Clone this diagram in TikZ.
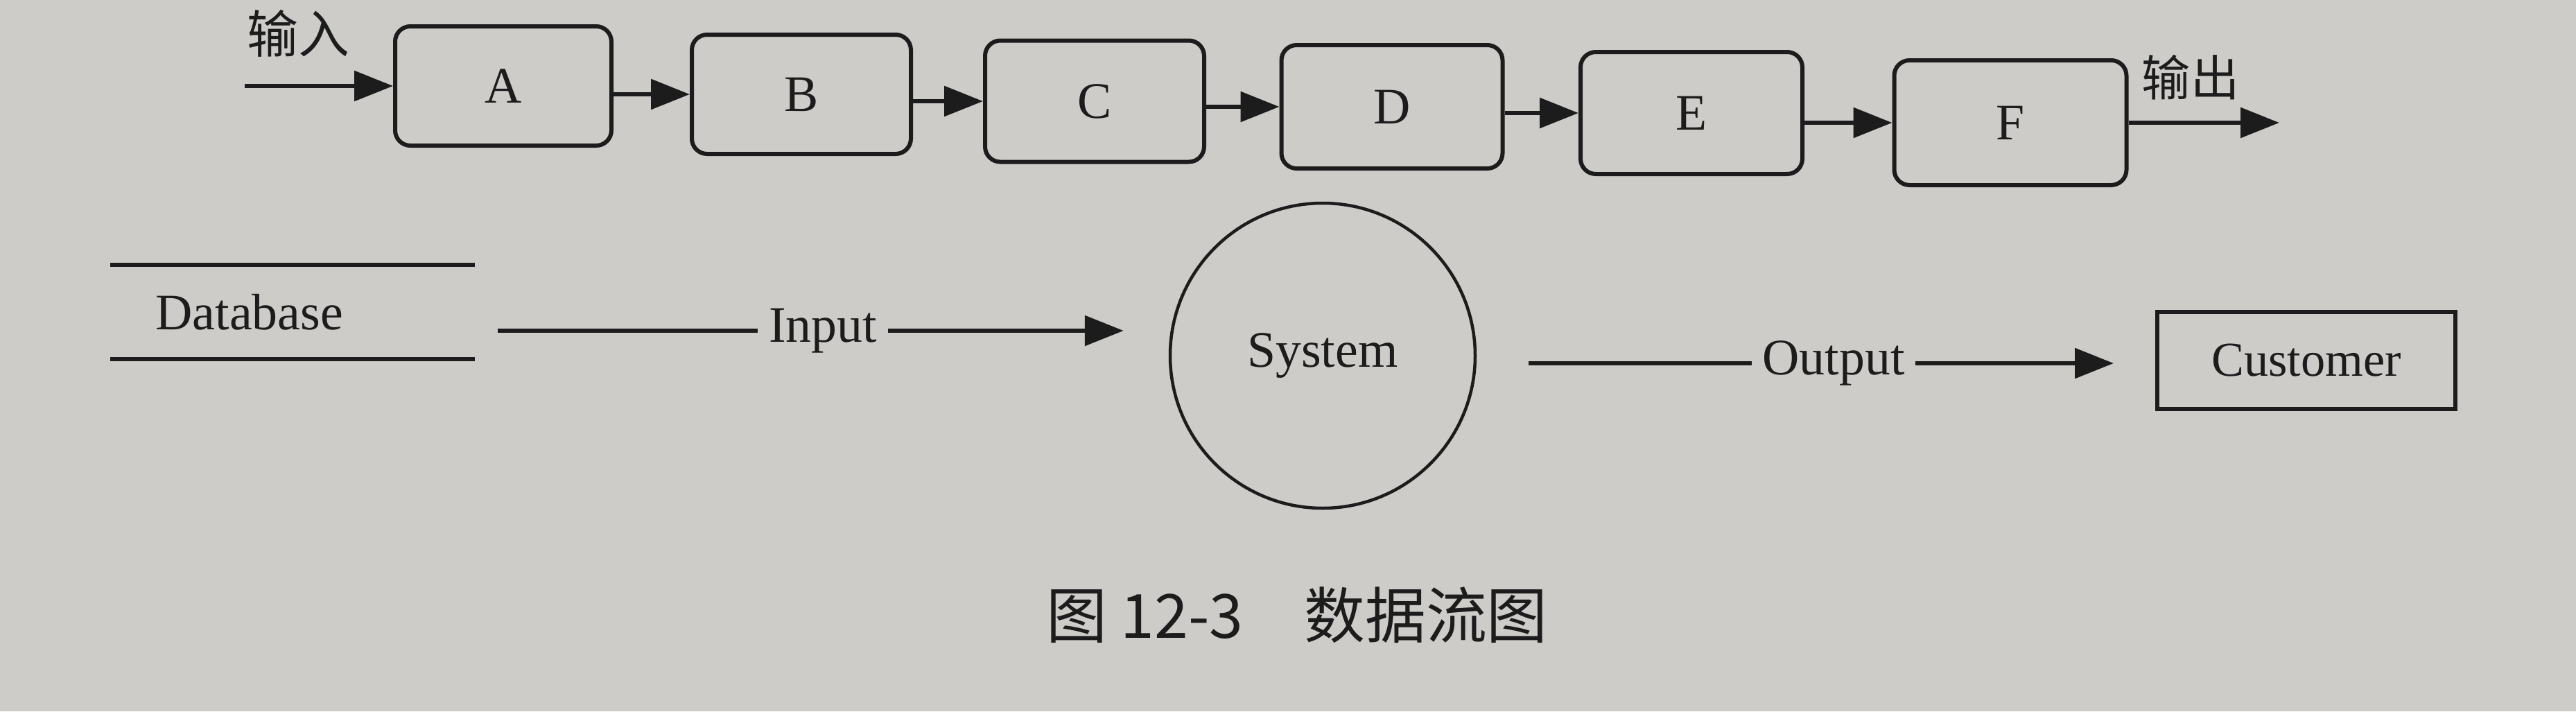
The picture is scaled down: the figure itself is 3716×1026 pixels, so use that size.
\documentclass[tikz,border=0pt]{standalone}
\usepackage{fontspec}
\setmainfont{Liberation Serif}
\newfontfamily\cjk{Noto Sans CJK SC}
\usetikzlibrary{arrows.meta}
\definecolor{paper}{RGB}{206,204,201}
\definecolor{ink}{RGB}{28,28,28}
\begin{document}
\begin{tikzpicture}[x=0.1mm,y=-0.1mm,
  proc/.style={draw=ink, line width=0.6mm, rounded corners=2.2mm, minimum width=31.6mm,
    minimum height=17.4mm, inner sep=0pt, font=\fontsize{21}{25}\selectfont, text=ink},
  flow/.style={draw=ink, line width=0.6mm, -{Triangle[length=5.6mm,width=4.3mm]}},
  plainline/.style={draw=ink, line width=0.6mm},
  lbl/.style={inner sep=1.5mm, font=\fontsize{21}{25}\selectfont, text=ink},
  cjklbl/.style={inner sep=1mm, font=\cjk\fontsize{21}{25}\selectfont, text=ink},
]
\fill[paper] (0,0) rectangle (3716,1026);
\useasboundingbox (0,0) rectangle (3716,1026);

% top row
\node[proc, minimum width=31.2mm, minimum height=17.2mm] (A) at (726,124) {A};
\node[proc, minimum width=31.6mm, minimum height=17.2mm] (B) at (1156,136) {B};
\node[proc, minimum width=31.6mm, minimum height=17.5mm] (C) at (1579,146) {C};
\node[proc, minimum width=31.9mm, minimum height=17.8mm] (D) at (2008,154) {D};
\node[proc, minimum width=32.0mm, minimum height=17.6mm] (E) at (2440,163) {E};
\node[proc, minimum width=33.5mm, minimum height=18.0mm] (F) at (2900,177) {F};

\node[cjklbl] (inlbl) at (430,48) {输入};
\node[cjklbl, font=\cjk\fontsize{20}{24}\selectfont] (outlbl) at (3160,112) {输出};

\coordinate (inpt) at (353,124);
\coordinate (outpt) at (3288,177);
\draw[flow] (inpt) -- (A.west);
\draw[flow] (A.east |- B.west) -- (B.west);
\draw[flow] (B.east |- C.west) -- (C.west);
\draw[flow] (C.east |- D.west) -- (D.west);
\draw[flow] (D.east |- E.west) -- (E.west);
\draw[flow] (E.east |- F.west) -- (F.west);
\draw[flow] (F.east) -- (outpt);

% bottom row
\node[lbl, minimum width=52.5mm, minimum height=13.4mm, inner xsep=6.5mm, inner ysep=0pt,
      text width=39.5mm, align=left] (db) at (422,450) {Database};
\draw[plainline] (db.north west) -- (db.north east);
\draw[plainline] (db.south west) -- (db.south east);

\node[draw=ink, line width=0.45mm, circle, minimum size=44mm, inner sep=0pt,
      font=\fontsize{21}{25}\selectfont, text=ink] (sys) at (1908,513) {System};

\node[draw=ink, line width=0.6mm, minimum width=43mm, minimum height=14mm, inner sep=0pt,
      font=\fontsize{20}{24}\selectfont, text=ink] (cust) at (3327,520) {Customer};

\node[lbl] (inp) at (1187,477) {Input};
\node[lbl] (outp) at (2645,524) {Output};

\draw[plainline, shorten <=3.3mm] (db.east |- inp.west) -- (inp.west);
\draw[flow, shorten >=6.5mm] (inp.east) -- (inp.east -| sys.west);
\draw[plainline, shorten <=7.5mm] (sys.east |- outp.west) -- (outp.west);
\draw[flow, shorten >=6mm] (outp.east) -- (outp.east -| cust.west);

% caption
\node[font=\cjk\fontsize{25}{30}\selectfont, text=ink, inner sep=0pt] (cap) at (1871,887)
  {图 12-3\hspace{1em}数据流图};
\end{tikzpicture}
\end{document}
